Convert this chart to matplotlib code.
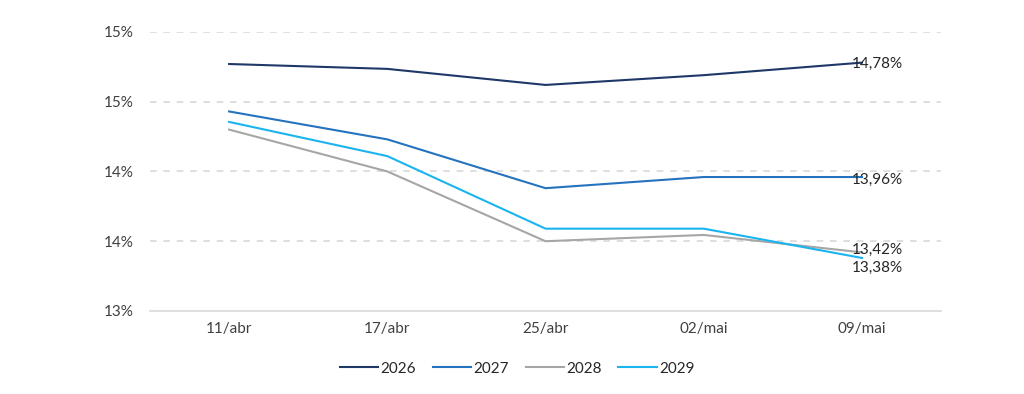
import numpy as np
import matplotlib.pyplot as plt
from matplotlib.ticker import FuncFormatter

plt.rcParams['font.family'] = ['Lato', 'DejaVu Sans']

dates = ['11/abr', '17/abr', '25/abr', '02/mai', '09/mai']
years = ['2026', '2027', '2028', '2029']
s2026 = [14.77, 14.735, 14.62, 14.69, 14.78]
s2027 = [14.43, 14.23, 13.88, 13.96, 13.96]
s2028 = [14.30, 14.00, 13.50, 13.545, 13.42]
s2029 = [14.355, 14.11, 13.59, 13.59, 13.38]
yticks = [13.0, 13.5, 14.0, 14.5, 15.0]

colors = ['#1F3868', '#2573BE', '#A6A6A6', '#1AB4EE']
series = [s2026, s2027, s2028, s2029]
label_dy = [-1, -2, 2, -7]  # pt offsets for end labels

fig = plt.figure(figsize=(10.24, 3.94), dpi=100)
ax = fig.add_axes([0.1465, 0.2107, 0.7725, 0.7083])

x = np.arange(len(dates))
for name, vals, c, dy in zip(years, series, colors, label_dy):
    ax.plot(x, vals, color=c, lw=1.5, label=name)
    ax.annotate(f"{vals[-1]:.2f}%".replace('.', ','), (x[-1], vals[-1]),
                xytext=(-7, dy), textcoords='offset points',
                ha='left', va='center', fontsize=11, color='#262626')

ax.set_xlim(-0.5, len(dates) - 0.5)
ax.set_ylim(13.0, 15.0)
ax.set_yticks(yticks)
ax.yaxis.set_major_formatter(FuncFormatter(lambda v, p: f"{int(np.floor(v + 0.5))}%"))
ax.set_xticks(x)
ax.set_xticklabels(dates)
ax.tick_params(length=0, labelsize=11, colors='#404040', pad=8)
ax.tick_params(axis='y', pad=12)

for v in yticks[1:]:
    ax.axhline(v, color='#D9D9D9', lw=1.2, ls=(0, (4, 4)), zorder=0)
for s in ['top', 'right', 'left']:
    ax.spines[s].set_visible(False)
ax.spines['bottom'].set_color('#D9D9D9')
ax.spines['bottom'].set_linewidth(1.2)

fig.legend(loc='lower center', bbox_to_anchor=(0.505, 0.012), ncol=4, frameon=False,
           fontsize=11, handlelength=2.5, handletextpad=0.15, columnspacing=1.1,
           labelcolor='#262626')

fig.savefig('out.png', dpi=100)
